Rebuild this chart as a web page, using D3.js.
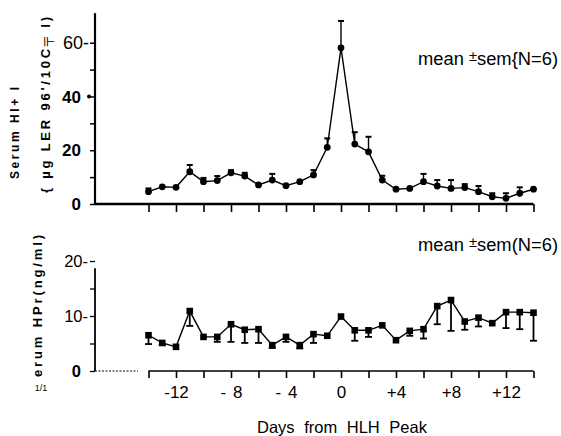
<!DOCTYPE html>
<html><head><meta charset="utf-8">
<script src="https://cdn.jsdelivr.net/npm/d3@7"></script>
<style>
body{margin:0;background:#fff;}
svg{display:block;font-family:"Liberation Sans",Arial,sans-serif;}
</style></head>
<body><svg id="c" width="561" height="436"></svg>
<script>
// ---- data ----
const days = [-14,-13,-12,-11,-10,-9,-8,-7,-6,-5,-4,-3,-2,-1,0,1,2,3,4,5,6,7,8,9,10,11,12,13,14];
const hlhMean = [4.6,6.4,6.2,12.0,8.3,8.7,11.6,10.4,7.1,8.9,6.8,8.3,10.8,21.1,58.1,22.3,19.4,8.9,5.5,5.8,8.3,6.7,5.8,6.1,4.6,2.7,2.1,4.0,5.5];
const hlhSem  = [1.2,0,0,2.5,1.4,1.7,1.0,1.2,0,2.3,0,0,1.8,3.3,10.0,4.4,5.6,1.6,0,0,2.9,2.2,3.1,1.3,2.1,1.3,1.9,2.2,0];
const hprMean = [6.5,5.1,4.4,10.9,6.2,6.2,8.5,7.5,7.6,4.7,6.2,4.7,6.7,6.4,9.9,7.4,7.4,8.3,5.6,7.3,7.6,11.8,12.9,9.0,9.7,8.7,10.7,10.7,10.6];
const hprSem  = [1.6,0.4,0,2.7,0,0.9,3.2,2.4,2.5,0.5,0.9,0.6,1.6,0,0,1.9,1.2,0,0,0.9,1.7,3.3,5.6,1.5,1.6,0,2.9,3.1,5.1];
const xTicks = [-14,-12,-10,-8,-6,-4,-2,0,2,4,6,8,10,12,14];
const xLabelVals = [-12,-8,-4,0,4,8,12];
const xLabelText = ["-12","- 8","- 4","0","+4","+8","+12"];
const hlhTicks = [0,10,20,30,40,50,60];
const hlhLabels = [[0,"0"],[20,"20"],[40,"40"],[60,"60-"]];
const hprTicks = [0,5,10,15,20];
const hprLabels = [[0,"0"],[10,"10-"],[20,"20-"]];

const svg = d3.select("#c");
const x = d3.scaleLinear().domain([-14,14]).range([148.5,533.5]);
const yT = d3.scaleLinear().domain([0,60]).range([204,42.7]);
const yB = d3.scaleLinear().domain([0,20]).range([371,261]);
const axX = 95;

// ---- top panel axes ----
svg.append("line").attr("x1",axX).attr("x2",axX).attr("y1",yT(71)).attr("y2",yT(0))
  .attr("stroke","#000").attr("stroke-width",2.2);
svg.append("g").attr("transform",`translate(${axX},0)`)
  .call(d3.axisLeft(yT).tickValues(hlhTicks).tickSize(5).tickFormat(""))
  .call(g=>{g.select(".domain").remove();g.selectAll("line").attr("stroke-width",1.5);});
svg.append("g").attr("transform",`translate(0,${yT(0)})`)
  .call(d3.axisBottom(x).tickValues(xTicks).tickSize(8).tickFormat(""))
  .call(g=>{g.select(".domain").remove();g.selectAll("line").attr("stroke-width",1.6);});
svg.append("line").attr("x1",axX).attr("x2",x(14)).attr("y1",yT(0)).attr("y2",yT(0))
  .attr("stroke","#000").attr("stroke-width",2.4);
svg.append("g").selectAll("text").data(hlhLabels).join("text")
  .attr("x",d=>d[1].endsWith("-")?89:81).attr("y",d=>yT(d[0])).attr("dy","0.36em")
  .attr("text-anchor","end").attr("font-size",d=>d[0]===60?18:17)
  .attr("font-weight",d=>d[0]===60?"normal":"bold").text(d=>d[1]);
svg.append("circle").attr("cx",axX-6).attr("cy",yT(40)).attr("r",2).attr("fill","#000");

// ---- bottom panel axes ----
svg.append("line").attr("x1",axX).attr("x2",axX).attr("y1",yB(18.7)).attr("y2",yB(0))
  .attr("stroke","#000").attr("stroke-width",1.8);
svg.append("g").attr("transform",`translate(${axX},0)`)
  .call(d3.axisLeft(yB).tickValues(hprTicks).tickSize(5).tickFormat(""))
  .call(g=>{g.select(".domain").remove();g.selectAll("line").attr("stroke-width",1.3);});
svg.append("g").attr("transform",`translate(0,${yB(0)})`)
  .call(d3.axisBottom(x).tickValues(xTicks).tickSize(7).tickPadding(8)
     .tickFormat(d=>{const i=xLabelVals.indexOf(d);return i<0?"":xLabelText[i];}))
  .call(g=>{g.select(".domain").remove();g.selectAll("line").attr("stroke-width",1.6);
           g.selectAll("text").attr("font-size",17).attr("fill","#000").attr("word-spacing",2)
            .attr("font-family","Liberation Sans, Arial, sans-serif");});
svg.append("line").attr("x1",axX).attr("x2",138).attr("y1",yB(0)).attr("y2",yB(0))
  .attr("stroke","#000").attr("stroke-width",1.2).attr("stroke-dasharray","2,1.5");
svg.append("line").attr("x1",x(-14)).attr("x2",x(14)).attr("y1",yB(0)).attr("y2",yB(0))
  .attr("stroke","#000").attr("stroke-width",1.6);
svg.append("g").selectAll("text").data(hprLabels).join("text")
  .attr("x",d=>d[0]===0?81:88).attr("y",d=>yB(d[0])).attr("dy","0.36em")
  .attr("text-anchor","end").attr("font-size",16.5)
  .attr("font-weight",d=>d[0]===0?"bold":"normal").text(d=>d[1]);

// ---- series ----
const topData = days.map((d,i)=>({d,m:hlhMean[i],s:hlhSem[i]}));
const botData = days.map((d,i)=>({d,m:hprMean[i],s:hprSem[i]}));

const gT = svg.append("g");
gT.selectAll(".eb").data(topData.filter(p=>p.s>0)).join("g").each(function(p){
  const g=d3.select(this);
  g.append("line").attr("x1",x(p.d)).attr("x2",x(p.d)).attr("y1",yT(p.m)).attr("y2",yT(p.m+p.s))
    .attr("stroke","#000").attr("stroke-width",1.4);
  g.append("line").attr("x1",x(p.d)-3).attr("x2",x(p.d)+3).attr("y1",yT(p.m+p.s)).attr("y2",yT(p.m+p.s))
    .attr("stroke","#000").attr("stroke-width",2);
});
gT.append("path").datum(topData)
  .attr("d",d3.line().x(p=>x(p.d)).y(p=>yT(p.m)))
  .attr("fill","none").attr("stroke","#000").attr("stroke-width",1.4);
gT.selectAll("circle").data(topData).join("circle")
  .attr("cx",p=>x(p.d)).attr("cy",p=>yT(p.m)).attr("r",3.4).attr("fill","#000");

const gB = svg.append("g");
gB.selectAll(".eb").data(botData.filter(p=>p.s>0)).join("g").each(function(p){
  const g=d3.select(this);
  g.append("line").attr("x1",x(p.d)).attr("x2",x(p.d)).attr("y1",yB(p.m)).attr("y2",yB(p.m-p.s))
    .attr("stroke","#000").attr("stroke-width",1.8);
  g.append("line").attr("x1",x(p.d)-3.5).attr("x2",x(p.d)+3.5).attr("y1",yB(p.m-p.s)).attr("y2",yB(p.m-p.s))
    .attr("stroke","#000").attr("stroke-width",1.8);
});
gB.append("path").datum(botData)
  .attr("d",d3.line().x(p=>x(p.d)).y(p=>yB(p.m)))
  .attr("fill","none").attr("stroke","#000").attr("stroke-width",1.4);
gB.selectAll("rect").data(botData).join("rect")
  .attr("x",p=>x(p.d)-3.3).attr("y",p=>yB(p.m)-3.3).attr("width",6.6).attr("height",6.6).attr("fill","#000");

// ---- legends ----
function legend(yb, tail){
  const t = svg.append("text").attr("x",418).attr("y",yb).attr("font-size",17.5).attr("fill","#000")
    .attr("textLength",140).attr("lengthAdjust","spacingAndGlyphs");
  t.append("tspan").text("mean ");
  t.append("tspan").attr("font-size",14).attr("dy",-4).text("±");
  t.append("tspan").attr("dy",4).text(tail);
}
legend(65,"sem{N=6)");
legend(251,"sem(N=6)");

// ---- axis titles ----
svg.append("text").attr("transform","translate(19,133) rotate(-90)")
  .attr("text-anchor","middle").attr("font-size",12).attr("font-weight","bold")
  .attr("textLength",92).attr("lengthAdjust","spacing").text("Serum HI+ I");
svg.append("text").attr("transform","translate(50,105) rotate(-90)")
  .attr("text-anchor","middle").attr("font-size",13).attr("font-weight","bold")
  .attr("textLength",176).attr("lengthAdjust","spacing").text("{ µg LER 96'/10C╤ l)");
svg.append("text").attr("transform","translate(42,306) rotate(-90)")
  .attr("text-anchor","middle").attr("font-size",13).attr("font-weight","bold")
  .attr("textLength",142).attr("lengthAdjust","spacing").text("erum HPr(ng/ml)");
svg.append("text").attr("x",41).attr("y",391).attr("text-anchor","middle")
  .attr("font-size",9).text("1/1");
svg.append("text").attr("x",342).attr("y",433).attr("text-anchor","middle")
  .attr("font-size",16.5).attr("word-spacing",5).text("Days from HLH Peak");
</script></body></html>
